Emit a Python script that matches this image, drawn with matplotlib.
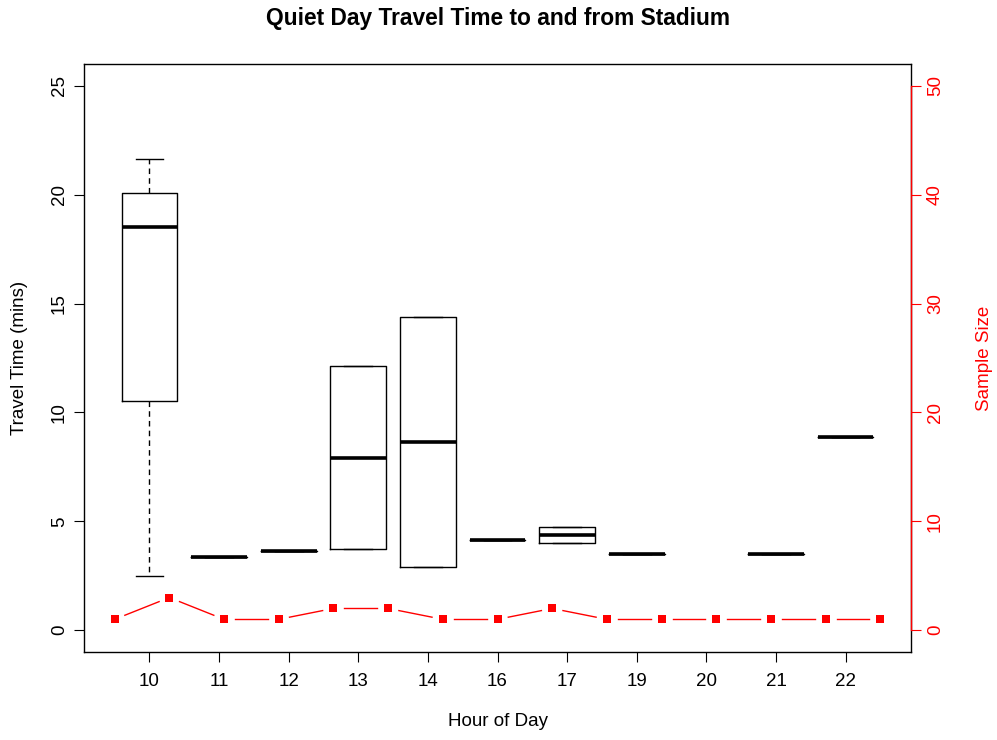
import numpy as np
import matplotlib
matplotlib.use("Agg")
import matplotlib.pyplot as plt

plt.rcParams["font.family"] = ["Liberation Sans", "DejaVu Sans"]

# -----------------------------
# DATA
# -----------------------------
hours = ["10", "11", "12", "13", "14", "16", "17", "19", "20", "21", "22"]
t10 = [2.49, 18.52, 21.65]
t11 = [3.37]
t12 = [3.65]
t13 = [3.73, 12.12]
t14 = [2.92, 14.38]
t16 = [4.16]
t17 = [4.02, 4.74]
t19 = [3.51]
t20 = []
t21 = [3.51]
t22 = [8.89]
travel = [t10, t11, t12, t13, t14, t16, t17, t19, t20, t21, t22]

sample_n = [1, 3, 1, 1, 2, 2, 1, 1, 2, 1, 1, 1, 1, 1, 1]


def fivenum(vals):
    # Tukey five-number summary (same as R's fivenum / boxplot hinges)
    x = np.sort(np.asarray(vals, dtype=float))
    n = len(x)
    n4 = np.floor((n + 3) / 2) / 2
    d = np.array([1, n4, (n + 1) / 2, n + 1 - n4, n]) - 1
    return 0.5 * (x[np.floor(d).astype(int)] + x[np.ceil(d).astype(int)])


stats = []
pos = []
for i, v in enumerate(travel):
    if len(v) == 0:
        continue
    lo, q1, med, q3, hi = fivenum(v)
    stats.append(dict(whislo=lo, q1=q1, med=med, q3=q3, whishi=hi, fliers=[]))
    pos.append(i + 1)

FS = 13.5

# -----------------------------
# FIGURE
# -----------------------------
W, H = 997, 740
fig = plt.figure(figsize=(W / 100, H / 100), dpi=100)
rect = [84 / W, 88 / H, 827 / W, 588 / H]
ax = fig.add_axes(rect)

ax.bxp(stats, positions=pos, widths=0.8, showfliers=False,
       boxprops=dict(color="black", linewidth=1.0),
       medianprops=dict(color="black", linewidth=2.6, solid_capstyle="butt"),
       whiskerprops=dict(color="black", linewidth=1.0, linestyle=(0, (4, 3))),
       capprops=dict(color="black", linewidth=1.0),
       capwidths=0.4)

n = len(hours)
ax.set_xlim(0.5 - 0.04 * n, n + 0.5 + 0.04 * n)
ax.set_ylim(-1, 26)
ax.set_xticks(range(1, n + 1))
ax.set_xticklabels(hours)
ax.set_yticks(range(0, 26, 5))
for s in ax.spines.values():
    s.set_linewidth(1.0)
    s.set_color("black")
ax.tick_params(axis="both", length=7, width=0.8, labelsize=FS)
ax.tick_params(axis="x", pad=8)
ax.tick_params(axis="y", pad=4.5)
for t in ax.get_yticklabels():
    t.set_rotation(90)
    t.set_va("center")

ax.set_xlabel("Hour of Day", fontsize=FS, va="center")
ax.xaxis.set_label_coords(0.5, -0.119)
ax.set_ylabel("Travel Time (mins)", fontsize=FS, va="center")
ax.yaxis.set_label_coords(-0.0785, 0.5)

# -----------------------------
# SAMPLE SIZE (second axes)
# -----------------------------
ax2 = fig.add_axes(rect)
ax2.patch.set_visible(False)
m = len(sample_n)
xs = np.arange(1, m + 1)
ax2.set_xlim(1 - 0.04 * (m - 1), m + 0.04 * (m - 1))
ax2.set_ylim(-2, 52)
ax2.xaxis.set_visible(False)
for k in ["top", "bottom", "left"]:
    ax2.spines[k].set_visible(False)
ax2.spines["right"].set_color("red")
ax2.spines["right"].set_linewidth(1.0)
ax2.spines["right"].set_bounds(0, 50)
ax2.yaxis.tick_right()
ax2.yaxis.set_label_position("right")
ax2.set_yticks(range(0, 51, 10))
ax2.tick_params(axis="y", colors="red", length=7, width=0.8, labelsize=FS, pad=4.5)
for t in ax2.get_yticklabels():
    t.set_rotation(90)
    t.set_va("center")
ax2.set_ylabel("Sample Size", color="red", fontsize=FS, va="center")
ax2.yaxis.set_label_coords(1.0885, 0.5)

# type="b": segments stop short of the points
gap = 11
pts = ax2.transData.transform(np.column_stack([xs, sample_n]))
inv = ax2.transData.inverted()
for p0, p1 in zip(pts[:-1], pts[1:]):
    d = p1 - p0
    L = np.hypot(*d)
    if L <= 2 * gap:
        continue
    a = inv.transform(p0 + d / L * gap)
    b = inv.transform(p1 - d / L * gap)
    ax2.plot([a[0], b[0]], [a[1], b[1]], color="red", linewidth=1.0)
ax2.plot(xs, sample_n, linestyle="none", marker="s", markersize=6.2,
         color="red", markeredgewidth=0)

fig.text(497.5 / W, 1 - 19 / H, "Quiet Day Travel Time to and from Stadium",
         ha="center", va="center", fontsize=16.4, fontweight="bold")

fig.savefig("out.png", dpi=100)
